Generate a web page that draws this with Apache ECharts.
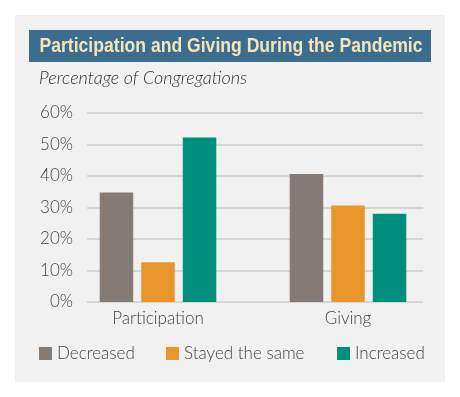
<!DOCTYPE html>
<html>
<head>
<meta charset="utf-8">
<script src="https://cdn.jsdelivr.net/npm/echarts@6/dist/echarts.min.js"></script>
<style>
html,body{margin:0;padding:0;background:#ffffff;}
#chart{width:460px;height:397px;}
</style>
</head>
<body>
<div id="chart"></div>
<script>
const categories = ['Participation', 'Giving'];
const seriesNames = ['Decreased', 'Stayed the same', 'Increased'];
const decreased = [34.7, 40.6];
const stayedSame = [12.6, 30.6];
const increased = [52.1, 28.0];
const yTicks = [0, 10, 20, 30, 40, 50, 60];

const colors = ['#857b75', '#e8962b', '#008f7d'];
const txt = '#444444';
const font = 'Lato, "Liberation Sans", sans-serif';

const titleText = 'Participation and Giving During the Pandemic';
const titleFont = 'bold 20.5px "Liberation Sans", Arial, sans-serif';
const mc = document.createElement('canvas').getContext('2d');
mc.font = titleFont;
const titleScale = 383 / mc.measureText(titleText).width;

const chart = echarts.init(document.getElementById('chart'), null, {renderer: 'canvas'});
const values = [decreased, stayedSame, increased];
const legendLefts = [39, 166, 337];

chart.setOption({
  animation: false,
  backgroundColor: '#ffffff',
  graphic: [
    {type: 'rect', left: 15, top: 15, shape: {width: 430, height: 367}, style: {fill: '#f1f1f1'}, z: -10},
    {type: 'rect', left: 29, top: 30, shape: {width: 402, height: 32}, style: {fill: '#3b6e8e'}, z: -5},
    {type: 'text', x: 39.5, y: 46.5, scaleX: titleScale, style: {text: titleText, fill: '#f5e4b8',
      font: titleFont, textVerticalAlign: 'middle', textAlign: 'left'}},
    {type: 'text', x: 39, y: 78, style: {text: 'Percentage of Congregations', fill: '#333333',
      font: 'italic 300 18px ' + font, textVerticalAlign: 'middle'}}
  ],
  grid: [
    {left: 87, right: 37, top: 112.7, bottom: 95},
    {left: 63, width: 380, top: 112.7, bottom: 95}
  ],
  xAxis: [
    {gridIndex: 0, type: 'category', data: categories, show: false},
    {gridIndex: 1, type: 'category', data: categories,
      axisLine: {show: false}, axisTick: {show: false},
      axisLabel: {color: txt, fontSize: 17, fontWeight: 300, fontFamily: font, margin: 8}}
  ],
  yAxis: [
    {gridIndex: 0, type: 'value', min: yTicks[0], max: yTicks[yTicks.length - 1], interval: 10,
      axisLine: {show: false}, axisTick: {show: false},
      axisLabel: {color: txt, fontSize: 17, fontWeight: 300, fontFamily: font, margin: 14, formatter: '{value}%'},
      splitLine: {lineStyle: {color: '#cdcdcd', width: 1.5}}},
    {gridIndex: 1, type: 'value', min: yTicks[0], max: yTicks[yTicks.length - 1], interval: 10, show: false,
      splitLine: {show: false}}
  ],
  legend: seriesNames.map((n, i) => ({
    data: [n], left: legendLefts[i], top: 345, itemWidth: 13, itemHeight: 13, itemGap: 0,
    icon: 'rect', textStyle: {color: txt, fontSize: 17, fontWeight: 300, fontFamily: font, padding: [0, 0, 0, 0]},
    padding: 0
  })),
  series: seriesNames.map((n, i) => ({
    name: n, type: 'bar', xAxisIndex: 1, yAxisIndex: 1, data: values[i],
    barWidth: 33.5, barGap: '24%', itemStyle: {color: colors[i]}
  }))
});
</script>
</body>
</html>
